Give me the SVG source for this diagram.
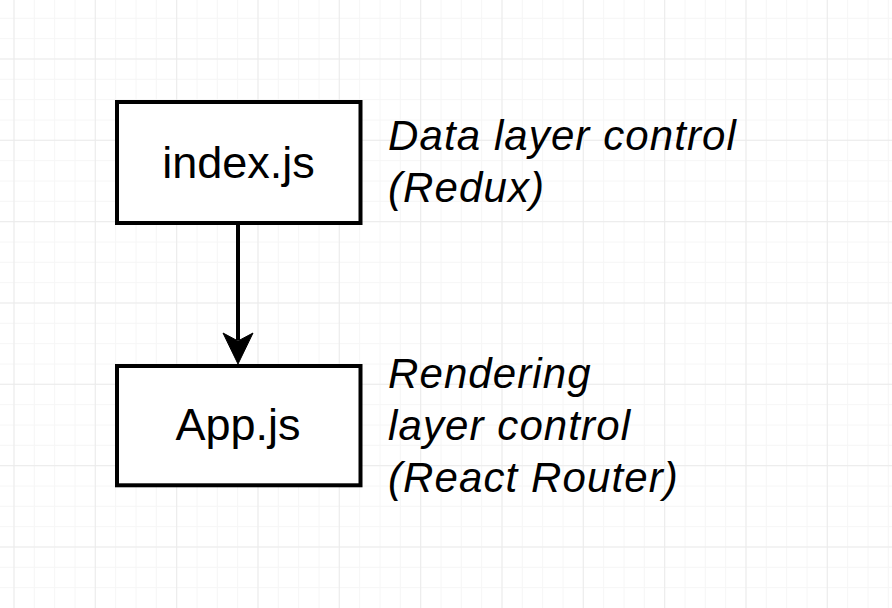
<svg xmlns="http://www.w3.org/2000/svg" width="892" height="608" viewBox="0 0 892 608">
<style>
.minor{stroke:#f6f6f6;stroke-width:1;fill:none}
.major{stroke:#ebebeb;stroke-width:1;fill:none}
.box{fill:#ffffff;stroke:#000000;stroke-width:4}
.label{font-family:"Liberation Sans",Arial,Helvetica,sans-serif;font-size:45px;fill:#000000;text-anchor:middle}
.note{font-family:"Liberation Sans",Arial,Helvetica,sans-serif;font-size:42px;font-style:italic;letter-spacing:1.1px;fill:#000000}
.edge{stroke:#000000;stroke-width:4;fill:none}
</style>
<rect width="892" height="608" fill="#ffffff"/>
<g id="grid">
<path class="minor" d="M14 0V608M34.3 0V608M54.7 0V608M75 0V608M95.3 0V608M115.7 0V608M136 0V608M156.3 0V608M176.7 0V608M197 0V608M217.3 0V608M237.7 0V608M258 0V608M278.3 0V608M298.7 0V608M319 0V608M339.3 0V608M359.7 0V608M380 0V608M400.3 0V608M420.7 0V608M441 0V608M461.3 0V608M481.7 0V608M502 0V608M522.3 0V608M542.7 0V608M563 0V608M583.3 0V608M603.7 0V608M624 0V608M644.3 0V608M664.7 0V608M685 0V608M705.3 0V608M725.7 0V608M746 0V608M766.3 0V608M786.7 0V608M807 0V608M827.3 0V608M847.7 0V608M868 0V608M888.3 0V608M0 18.3H892M0 38.7H892M0 59H892M0 79.3H892M0 99.7H892M0 120H892M0 140.3H892M0 160.7H892M0 181H892M0 201.3H892M0 221.7H892M0 242H892M0 262.3H892M0 282.7H892M0 303H892M0 323.3H892M0 343.7H892M0 364H892M0 384.3H892M0 404.7H892M0 425H892M0 445.3H892M0 465.7H892M0 486H892M0 506.3H892M0 526.7H892M0 547H892M0 567.3H892M0 587.7H892"/>
<path class="major" d="M14 0V608M95.3 0V608M176.7 0V608M258 0V608M339.3 0V608M420.7 0V608M502 0V608M583.3 0V608M664.7 0V608M746 0V608M827.3 0V608M0 59H892M0 140.3H892M0 221.7H892M0 303H892M0 384.3H892M0 465.7H892M0 547H892"/>
</g>
<g id="connectors">
<line class="edge" x1="238" y1="224" x2="238" y2="340"/>
<path d="M223 333L238 364L253 333L238 341Z" fill="#000000" stroke="#000000" stroke-width="1" stroke-linejoin="miter"/>
</g>
<g id="node-index">
<rect class="box" x="117" y="102" width="243.5" height="121"/>
<text class="label" x="238.5" y="178">index.js</text>
</g>
<g id="node-app">
<rect class="box" x="117" y="366" width="243.5" height="119.3"/>
<text class="label" x="238" y="440">App.js</text>
</g>
<g id="note-data">
<text class="note" x="388" y="150">Data layer control</text>
<text class="note" x="388" y="201.5">(Redux)</text>
</g>
<g id="note-render">
<text class="note" x="388" y="388">Rendering</text>
<text class="note" x="388" y="440">layer control</text>
<text class="note" x="388" y="492">(React Router)</text>
</g>
</svg>
